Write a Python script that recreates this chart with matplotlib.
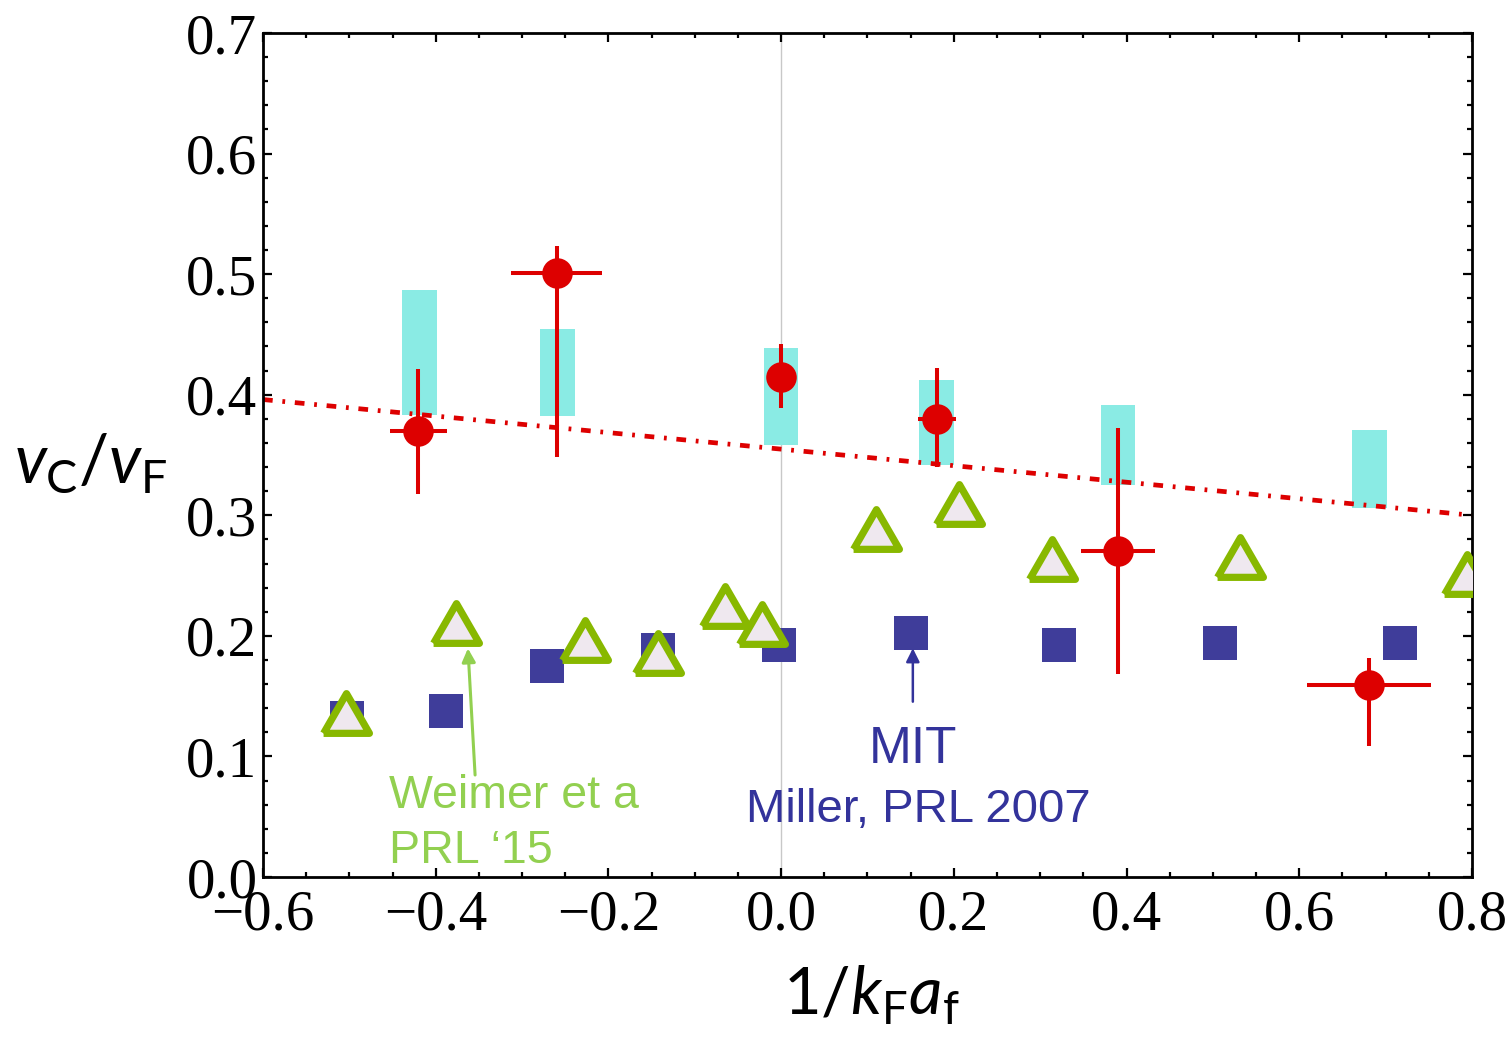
import matplotlib
matplotlib.use("Agg")
import matplotlib.pyplot as plt
from matplotlib.markers import MarkerStyle
from matplotlib.ticker import MultipleLocator, FuncFormatter

# ---------------- data ----------------
# red points (with error bars)
red_x = [-0.420, -0.260, 0.000, 0.180, 0.390, 0.681]
red_y = [0.370, 0.501, 0.415, 0.380, 0.270, 0.159]
red_xerr = [0.033, 0.053, 0.000, 0.022, 0.043, 0.072]
red_yerr_lo = [0.052, 0.153, 0.026, 0.040, 0.102, 0.050]
red_yerr_hi = [0.051, 0.022, 0.027, 0.042, 0.102, 0.023]

# cyan bands
band_x = [-0.419, -0.259, 0.000, 0.180, 0.390, 0.681]
band_lo = [0.383, 0.382, 0.358, 0.342, 0.325, 0.306]
band_hi = [0.487, 0.4545, 0.4387, 0.412, 0.3915, 0.3707]
band_width = 0.040

# MIT (Miller PRL 2007) squares
mit_x = [-0.5025, -0.3885, -0.2713, -0.1428, -0.003, 0.1505, 0.322, 0.5087, 0.717]
mit_y = [0.132, 0.138, 0.175, 0.188, 0.1927, 0.2024, 0.1924, 0.1938, 0.194]

# Weimer et al PRL '15 triangles
wei_x = [-0.504, -0.3767, -0.227, -0.1428, -0.0648, -0.0224, 0.110, 0.2065, 0.314, 0.5315, 0.794]
wei_y = [0.136, 0.2108, 0.1966, 0.1855, 0.2246, 0.2097, 0.2888, 0.309, 0.2637, 0.2654, 0.2515]

# dash-dot reference line
line_x = [-0.6, 0.8]
line_y = [0.396, 0.300]

xticks = [-0.6, -0.4, -0.2, 0.0, 0.2, 0.4, 0.6, 0.8]
yticks = [0.0, 0.1, 0.2, 0.3, 0.4, 0.5, 0.6, 0.7]

# ---------------- style ----------------
plt.rcParams["mathtext.fontset"] = "custom"
plt.rcParams["mathtext.rm"] = "Lato"
plt.rcParams["mathtext.it"] = "Lato:italic"
plt.rcParams["mathtext.sf"] = "Lato"
plt.rcParams["lines.scale_dashes"] = False

RED = "#DD0000"
CYAN = "#8AEBE4"
BLUE = "#3F3D9A"
GREEN_EDGE = "#88B800"
GREEN_FACE = "#EFE8EF"
GREEN_TXT = "#92D050"
BLUE_TXT = "#33339B"

fig = plt.figure(figsize=(15.10, 10.39), dpi=100)
ax = fig.add_axes([263 / 1510, 1 - 877 / 1039, (1472 - 263) / 1510, (877 - 33) / 1039])

ax.set_xlim(-0.6, 0.8)
ax.set_ylim(0.0, 0.7)

# vertical line at zero
ax.axvline(0.0, color="#C8C8C8", lw=1.0, zorder=0.5)

# cyan bands
ax.bar(band_x, [h - l for h, l in zip(band_hi, band_lo)], bottom=band_lo,
       width=band_width, color=CYAN, edgecolor="none", zorder=1)

# dash-dot line
ax.plot(line_x, line_y, color=RED, lw=3.4, dashes=(7, 7, 2, 7), zorder=2,
        dash_capstyle="butt")

# MIT squares
ax.plot(mit_x, mit_y, ls="none", marker="s", ms=24.5, mfc=BLUE, mec="none",
        mew=0, zorder=3)

# Weimer triangles (equilateral)
tri = MarkerStyle([(-0.5, -0.433), (0.5, -0.433), (0.0, 0.433), (-0.5, -0.433)],
                  joinstyle="miter")
ax.plot(wei_x, wei_y, ls="none", marker=tri, ms=33, mfc=GREEN_FACE,
        mec=GREEN_EDGE, mew=5.2, zorder=4, clip_on=True)

# red data with error bars
ax.errorbar(red_x, red_y, xerr=red_xerr, yerr=[red_yerr_lo, red_yerr_hi],
            fmt="o", color=RED, ms=22, mec="none", elinewidth=2.9, capsize=0,
            zorder=5)

# ticks & frame
ax.xaxis.set_minor_locator(MultipleLocator(0.05))
ax.yaxis.set_minor_locator(MultipleLocator(0.02))
ax.set_xticks(xticks)
ax.set_yticks(yticks)
fmt = FuncFormatter(lambda v, p: f"{v:.1f}".replace("-", "\u2212"))
ax.xaxis.set_major_formatter(fmt)
ax.yaxis.set_major_formatter(fmt)
ax.tick_params(which="both", direction="in", top=True, right=True, width=1.6,
               color="black")
ax.tick_params(which="major", length=6.5, labelsize=41)
ax.tick_params(axis="x", which="major", pad=9)
ax.tick_params(axis="y", which="major", pad=4)
ax.tick_params(which="minor", length=3.6)
for lab in ax.get_xticklabels() + ax.get_yticklabels():
    lab.set_fontfamily("Liberation Serif")
for sp in ax.spines.values():
    sp.set_linewidth(2.0)

# axis labels
fig.text(14 / 1510, 1 - 482 / 1039, r"$v_{\mathrm{C}}/v_{\mathrm{F}}$",
         fontsize=48, ha="left", va="baseline")
fig.text(871 / 1510, 1 - 1015 / 1039, r"$1/k_{\mathrm{F}}a_{\mathrm{f}}$",
         fontsize=47, ha="center", va="baseline")

# annotations
ax.text(-0.4539, 0.057, "Weimer et a", color=GREEN_TXT, fontsize=33.5,
        family="Liberation Sans", ha="left", va="baseline", zorder=6)
ax.text(-0.4539, 0.0114, "PRL \u201815", color=GREEN_TXT, fontsize=33.5,
        family="Liberation Sans", ha="left", va="baseline", zorder=6)
ax.annotate("", xy=(-0.3627, 0.1896), xytext=(-0.3544, 0.0846),
            arrowprops=dict(arrowstyle="-|>,head_length=0.8,head_width=0.4",
                            color=GREEN_TXT, lw=2.2, shrinkA=0, shrinkB=0),
            zorder=6)

ax.text(0.1525, 0.0943, "MIT", color=BLUE_TXT, fontsize=37,
        family="Liberation Sans", ha="center", va="baseline", zorder=6)
ax.text(0.1592, 0.0459, "Miller, PRL 2007", color=BLUE_TXT, fontsize=34,
        family="Liberation Sans", ha="center", va="baseline", zorder=6)
ax.annotate("", xy=(0.1525, 0.1897), xytext=(0.1525, 0.1454),
            arrowprops=dict(arrowstyle="-|>,head_length=0.8,head_width=0.4",
                            color=BLUE_TXT, lw=1.8, shrinkA=0, shrinkB=0),
            zorder=6)

fig.savefig("out.png", dpi=100, facecolor="white")
